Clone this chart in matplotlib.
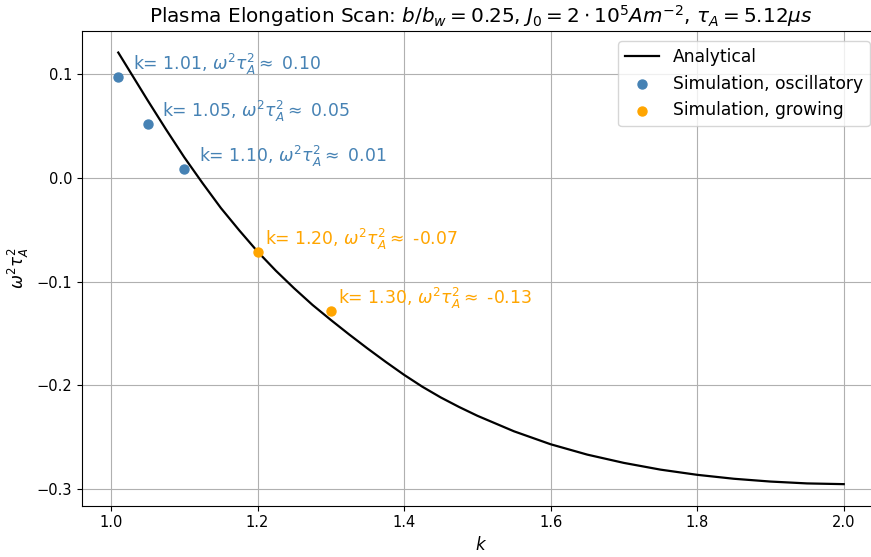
import matplotlib
matplotlib.use("Agg")
import matplotlib.pyplot as plt

# analytical growth rate vs elongation
k_analytic = [1.01, 1.03, 1.05, 1.075, 1.10, 1.125, 1.15, 1.175, 1.20, 1.225, 1.25, 1.275,
              1.30, 1.325, 1.35, 1.375, 1.40, 1.425, 1.45, 1.475, 1.50, 1.55, 1.60, 1.65,
              1.70, 1.75, 1.80, 1.85, 1.90, 1.95, 2.00]
w2_analytic = [0.121, 0.098, 0.075, 0.047, 0.020, -0.005, -0.029, -0.0505, -0.071, -0.0895,
               -0.1065, -0.1225, -0.137, -0.151, -0.1645, -0.1775, -0.190, -0.2015, -0.2118,
               -0.221, -0.2295, -0.2445, -0.257, -0.267, -0.275, -0.2815, -0.2865, -0.2903,
               -0.293, -0.2948, -0.2955]

# simulation results
k_osc = [1.01, 1.05, 1.10]
w2_osc = [0.097, 0.052, 0.009]
k_grow = [1.20, 1.30]
w2_grow = [-0.071, -0.128]

fig = plt.figure(figsize=(8.71, 5.57), dpi=100)
ax = fig.add_axes([82 / 871, 51.3 / 557, 798 / 871, 474.7 / 557])

ax.plot(k_analytic, w2_analytic, color="black", lw=1.6, solid_joinstyle="round",
        label="Analytical")
ax.scatter(k_osc, w2_osc, color="steelblue", s=42, zorder=3, label="Simulation, oscillatory")
ax.scatter(k_grow, w2_grow, color="orange", s=42, zorder=3, label="Simulation, growing")

for k, w in zip(k_osc, w2_osc):
    ax.text(k + 0.02, w, rf"k= {k:.2f}, $\omega^2\tau_A^2 \approx$ {w:.2f}",
            color="steelblue", fontsize=12.4, va="bottom")
for k, w in zip(k_grow, w2_grow):
    ax.text(k + 0.01, w, rf"k= {k:.2f}, $\omega^2\tau_A^2 \approx$ {w:.2f}",
            color="orange", fontsize=12.4, va="bottom")

ax.set_xlim(0.9605, 2.0495)
ax.set_ylim(-0.3163, 0.1418)
ax.grid(True)
ax.tick_params(labelsize=10.5)
ax.set_xlabel(r"$k$", fontsize=12)
ax.set_ylabel(r"$\omega^2\tau_A^2$", fontsize=12)
ax.set_title(r"Plasma Elongation Scan: $b/b_w = 0.25$, $J_0 = 2 \cdot 10^5 Am^{-2}$, $\tau_A = 5.12 \mu s$",
             fontsize=14.4)
ax.legend(loc="upper right", fontsize=12.3, borderaxespad=0.6)

fig.savefig("out.png", dpi=100)
